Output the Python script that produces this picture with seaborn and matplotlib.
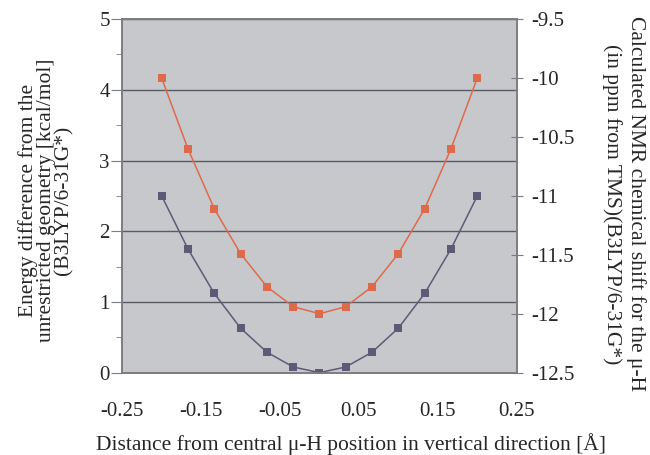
import numpy as np
import pandas as pd
import seaborn as sns
import matplotlib.pyplot as plt
from matplotlib.ticker import MultipleLocator, FuncFormatter

# valores
distance = [-0.2, -0.1667, -0.1333, -0.1, -0.0667, -0.0333, 0.0,
            0.0333, 0.0667, 0.1, 0.1333, 0.1667, 0.2]
energy = [2.5, 1.75, 1.12, 0.63, 0.29, 0.08, 0.0,
          0.08, 0.29, 0.63, 1.12, 1.75, 2.5]
nmr_shift = [-10.0, -10.6, -11.11, -11.49, -11.77, -11.94, -12.0,
             -11.94, -11.77, -11.49, -11.11, -10.6, -10.0]
xticks = [-0.25, -0.15, -0.05, 0.05, 0.15, 0.25]

df = pd.DataFrame({"distance": distance, "energy": energy, "nmr": nmr_shift})

sns.set_style("white")
plt.rcParams['font.family'] = ['Liberation Serif', 'DejaVu Serif']

BG = '#c7c8cc'
DARK = '#5f5978'
ORANGE = '#df6a4b'
SPINE = '#7c7c84'
GRID = '#5a5a62'
FS_TICK = 15
FS_LABEL = 15.5

fig = plt.figure(figsize=(6.5, 4.55), dpi=100)
ax = fig.add_axes([0.188, 0.181, 0.607, 0.777])
ax.set_facecolor(BG)

sns.lineplot(data=df, x="distance", y="energy", ax=ax, color=DARK,
             marker='s', markersize=5.3, markeredgewidth=0, linewidth=1.1)
ax.set_xlim(-0.25, 0.25)
ax.set_ylim(0, 5)
ax.set_xticks(xticks)
ax.xaxis.set_major_formatter(FuncFormatter(lambda v, p: '%g' % v))
ax.yaxis.set_major_locator(MultipleLocator(1))
ax.yaxis.set_minor_locator(MultipleLocator(0.5))
ax.grid(axis='y', which='major', color=GRID, linewidth=1.0)
ax.set_axisbelow(True)
ax.tick_params(axis='x', direction='in', length=5, color=SPINE, labelsize=FS_TICK, pad=21)
ax.tick_params(axis='y', which='major', direction='out', length=8, color=SPINE,
               labelsize=FS_TICK, pad=1)
ax.tick_params(axis='y', which='minor', direction='out', length=4, color=SPINE, left=True)
for s in ax.spines.values():
    s.set_color(SPINE)
    s.set_linewidth(1.2)
ax.set_xlabel("Distance from central μ-H position in vertical direction [Å]",
              fontsize=FS_LABEL)
ax.xaxis.set_label_coords((351 - 122) / 395, -0.17)
ax.xaxis.label.set_va('top')
ax.set_ylabel("")

ax2 = ax.twinx()
sns.lineplot(data=df, x="distance", y="nmr", ax=ax2, color=ORANGE,
             marker='s', markersize=5.3, markeredgewidth=0, linewidth=1.1)
ax2.set_ylim(-12.5, -9.5)
ax2.yaxis.set_major_locator(MultipleLocator(0.5))
ax2.yaxis.set_major_formatter(FuncFormatter(lambda v, p: '%g' % v))
ax2.tick_params(axis='y', direction='inout', length=9, color=SPINE, labelsize=FS_TICK, pad=6)
for s in ax2.spines.values():
    s.set_color(SPINE)
    s.set_linewidth(1.2)
ax2.set_ylabel("")
ax2.set_xlabel("")

fig.text(46 / 650, 1 - 200 / 455,
         "Energy difference from the\nunrestricted geometry [kcal/mol]\n(B3LYP/6-31G*)",
         rotation=90, ha='center', va='center', fontsize=FS_LABEL, linespacing=0.9,
         multialignment='center')
fig.text(624 / 650, 1 - 204 / 455,
         "Calculated NMR chemical shift for the μ-H\n(in ppm from TMS)(B3LYP/6-31G*)",
         rotation=270, ha='center', va='center', fontsize=FS_LABEL, linespacing=1.3,
         multialignment='center')

fig.savefig("out.png", dpi=100)
